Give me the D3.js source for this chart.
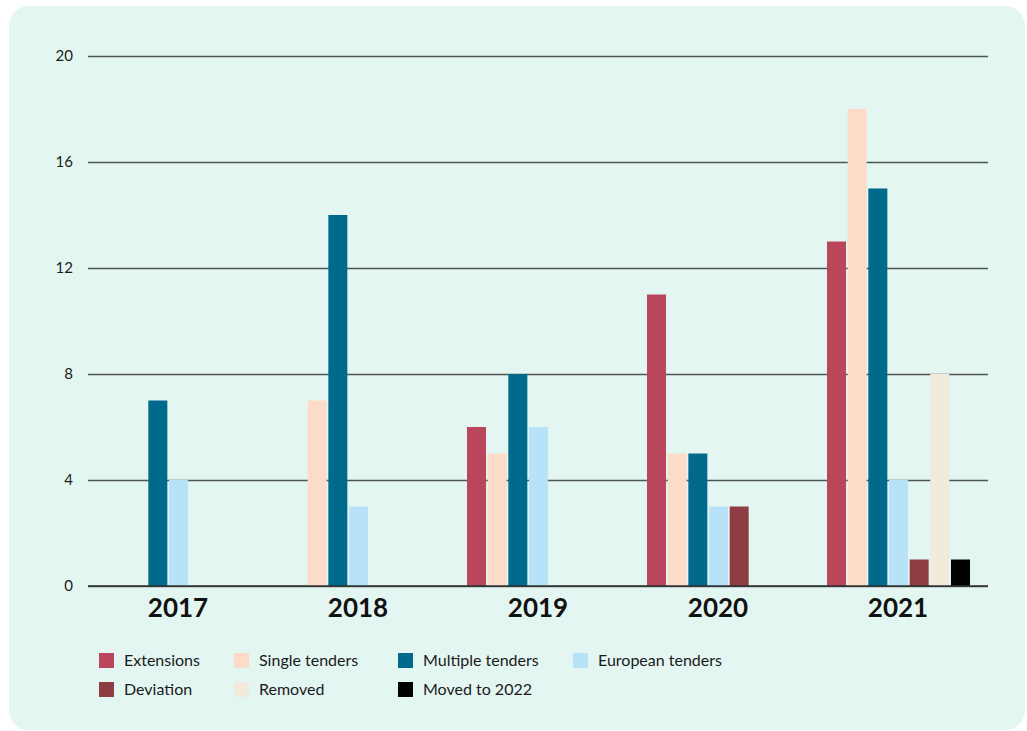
<!DOCTYPE html>
<html>
<head>
<meta charset="utf-8">
<script src="https://cdn.jsdelivr.net/npm/d3@7"></script>
<style>
  body { margin: 0; background: #ffffff; }
  svg { display: block; }
  .tick text { font-family: "Lato", "Noto Sans", sans-serif; }
</style>
</head>
<body>
<div class="svg-container"></div>
<script>
// data
var years = ["2017", "2018", "2019", "2020", "2021"];
var seriesNames = ["Extensions", "Single tenders", "Multiple tenders", "European tenders", "Deviation", "Removed", "Moved to 2022"];
var seriesColors = ["#b9465a", "#fcdcc8", "#006a8c", "#b8e2f8", "#8e3e43", "#f2ebdc", "#000000"];
var extensions = [0, 0, 6, 11, 13];
var singleTenders = [0, 7, 5, 5, 18];
var multipleTenders = [7, 14, 8, 5, 15];
var europeanTenders = [4, 3, 6, 3, 4];
var deviation = [0, 0, 0, 3, 1];
var removed = [0, 0, 0, 0, 8];
var movedTo2022 = [0, 0, 0, 0, 1];
var yTicks = [0, 4, 8, 12, 16, 20];

var seriesValues = [extensions, singleTenders, multipleTenders, europeanTenders, deviation, removed, movedTo2022];

var w = 1027, h = 731;
var svg = d3.select(".svg-container").append("svg")
    .attr("width", w)
    .attr("height", h);

// card background
svg.append("rect")
    .attr("x", 9).attr("y", 6)
    .attr("width", 1016).attr("height", 724)
    .attr("rx", 20).attr("ry", 20)
    .attr("fill", "#e4f6f2");

var p_left = 88, p_right = 988, p_top = 56, p_bottom = 586;

var x0 = d3.scaleBand().domain(years).range([p_left, p_right]).paddingInner(0).paddingOuter(0);
var x1 = d3.scaleBand().domain(seriesNames).range([19, x0.bandwidth() - 18]).paddingInner(0.08);
var y = d3.scaleLinear().domain([0, 20]).range([p_bottom, p_top]);

// grid lines
var yAxis = d3.axisLeft(y).tickValues(yTicks).tickSize(-(p_right - p_left)).tickPadding(15);
var gy = svg.append("g")
    .attr("transform", "translate(" + p_left + ",0)")
    .call(yAxis);
gy.select(".domain").remove();
gy.selectAll(".tick line")
    .attr("stroke", "#4f5554")
    .attr("stroke-width", 1.4);
gy.selectAll(".tick text")
    .attr("font-size", 15)
    .attr("fill", "#1a1a1a");

// bars
var groups = svg.selectAll(".year")
    .data(years)
    .enter().append("g")
    .attr("class", "year")
    .attr("transform", function(d) { return "translate(" + x0(d) + ",0)"; });

groups.selectAll("rect")
    .data(function(d, i) {
        return seriesNames.map(function(s, k) { return {name: s, value: seriesValues[k][i], color: seriesColors[k]}; });
    })
    .enter().append("rect")
    .attr("x", function(d) { return x1(d.name); })
    .attr("y", function(d) { return y(d.value); })
    .attr("width", x1.bandwidth())
    .attr("height", function(d) { return y(0) - y(d.value); })
    .attr("fill", function(d) { return d.color; });

// baseline
svg.append("line")
    .attr("x1", p_left).attr("x2", p_right)
    .attr("y1", y(0)).attr("y2", y(0))
    .attr("stroke", "#2b2f2e")
    .attr("stroke-width", 1.5);

// year labels
var xAxis = d3.axisBottom(x0).tickSize(0).tickPadding(13);
var gx = svg.append("g")
    .attr("transform", "translate(0," + p_bottom + ")")
    .call(xAxis);
gx.select(".domain").remove();
gx.selectAll(".tick text")
    .attr("font-family", "'Open Sans', sans-serif")
    .attr("font-size", 26)
    .attr("font-weight", "bold")
    .attr("fill", "#111111");

// legend
var legendX = [99, 234, 398, 573];
var legend = svg.selectAll(".legend")
    .data(seriesNames)
    .enter().append("g")
    .attr("class", "legend")
    .attr("transform", function(d, i) {
        return "translate(" + legendX[i % 4] + "," + (653 + Math.floor(i / 4) * 29) + ")";
    });
legend.append("rect")
    .attr("width", 15).attr("height", 15)
    .attr("fill", function(d, i) { return seriesColors[i]; });
legend.append("text")
    .attr("x", 25).attr("y", 13)
    .attr("font-family", "Lato, 'Noto Sans', sans-serif")
    .attr("font-size", 16)
    .attr("fill", "#1a1a1a")
    .text(function(d) { return d; });
</script>
</body>
</html>
